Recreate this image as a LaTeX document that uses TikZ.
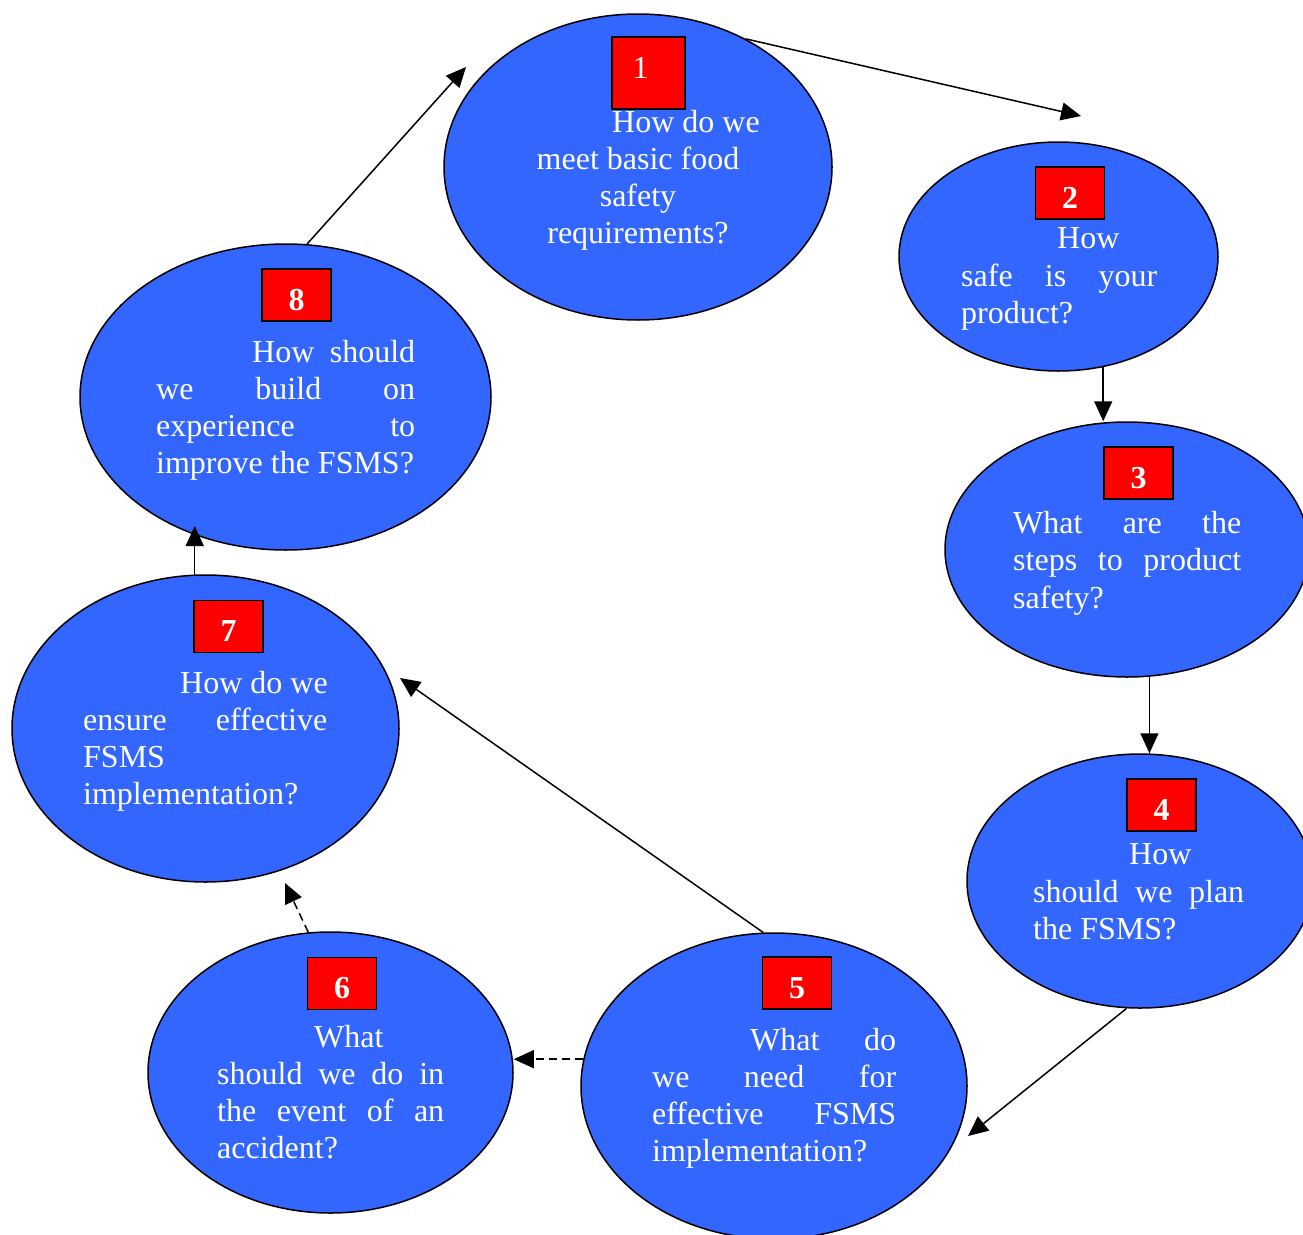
\documentclass[tikz,border=0pt]{standalone}
\usepackage{fontspec}
\setmainfont{Liberation Serif}
\usetikzlibrary{shapes.geometric,arrows.meta}
\definecolor{ebl}{HTML}{3366FF}
\definecolor{rbx}{HTML}{FF0000}
\newcommand{\jl}[2]{\makebox[#1][s]{#2}}
\begin{document}
\begin{tikzpicture}[x=1pt,y=-1pt,
  bubble/.style={ellipse,draw=black,line width=1.5pt,fill=ebl,inner sep=0pt},
  numbox/.style={rectangle,draw=black,line width=1.5pt,fill=rbx,inner sep=0pt,
    minimum width=69pt,minimum height=52pt,text=white,
    font=\fontsize{32}{37}\selectfont\bfseries,text height=30pt,text depth=0pt},
  qtext/.style={text=white,font=\fontsize{32}{37}\selectfont,inner sep=0pt,anchor=base west},
  qctext/.style={qtext,anchor=base},
  arr/.style={line width=1.5pt,-{Triangle[length=20pt,width=18pt]}},
  darr/.style={arr,dash pattern=on 8pt off 5pt}]
\useasboundingbox (0,0) rectangle (1303,1234);

% bubbles
\node[bubble,minimum width=388pt,minimum height=306pt] (e1) at (638,167) {};
\node[bubble,minimum width=319pt,minimum height=229pt] (e2) at (1058.5,256.5) {};
\node[bubble,minimum width=364pt,minimum height=255pt] (e3) at (1127,549.5) {};
\node[bubble,minimum width=346pt,minimum height=254pt] (e4) at (1140,881) {};
\node[bubble,minimum width=386pt,minimum height=306pt] (e5) at (774,1086) {};
\node[bubble,minimum width=365pt,minimum height=281pt] (e6) at (330.5,1072.5) {};
\node[bubble,minimum width=387pt,minimum height=307pt] (e7) at (205.5,728.5) {};
\node[bubble,minimum width=411pt,minimum height=306pt] (e8) at (285.5,397) {};

% number boxes
\node[numbox,minimum width=73pt,minimum height=72pt,font=\fontsize{32}{37}\selectfont,text height=10pt] (n1) at (648.5,73) {1\hspace*{16pt}};
\node[numbox] (n2) at (1070,193) {2};
\node[numbox] (n3) at (1138.5,473) {3};
\node[numbox] (n4) at (1161.5,805) {4};
\node[numbox] (n5) at (797,983) {5};
\node[numbox] (n6) at (342,983.5) {6};
\node[numbox] (n7) at (228.5,626.5) {7};
\node[numbox] (n8) at (296.5,295) {8};

% texts
\node[qtext] (t1a) at (612,132) {How do we};
\node[qctext] (t1b) at (638,169) {meet basic food};
\node[qctext] (t1c) at (638,206) {safety};
\node[qctext] (t1d) at (638,243) {requirements?};

\node[qtext] (t2a) at (1057,248) {How};
\node[qtext] (t2b) at (961,286) {\jl{196pt}{safe is your}};
\node[qtext] (t2c) at (961,323) {product?};

\node[qtext] (t3a) at (1013,533) {\jl{228pt}{What are the}};
\node[qtext] (t3b) at (1013,570) {\jl{228pt}{steps to product}};
\node[qtext] (t3c) at (1013,608) {safety?};

\node[qtext] (t4a) at (1129,864) {How};
\node[qtext] (t4b) at (1033,902) {\jl{211pt}{should we plan}};
\node[qtext] (t4c) at (1033,939) {the FSMS?};

\node[qtext] (t5a) at (750,1050) {\jl{146pt}{What do}};
\node[qtext] (t5b) at (652,1087) {\jl{244pt}{we need for}};
\node[qtext] (t5c) at (652,1124) {\jl{244pt}{effective FSMS}};
\node[qtext] (t5d) at (652,1161) {implementation?};

\node[qtext] (t6a) at (314,1047) {What};
\node[qtext] (t6b) at (217,1084) {\jl{227pt}{should we do in}};
\node[qtext] (t6c) at (217,1121) {\jl{227pt}{the event of an}};
\node[qtext] (t6d) at (217,1158) {accident?};

\node[qtext] (t7a) at (180,693) {How do we};
\node[qtext] (t7b) at (83,730) {\jl{244pt}{ensure effective}};
\node[qtext] (t7c) at (83,767) {FSMS};
\node[qtext] (t7d) at (83,804) {implementation?};

\node[qtext] (t8a) at (252,362) {\jl{163pt}{How should}};
\node[qtext] (t8b) at (156,399) {\jl{259pt}{we build on}};
\node[qtext] (t8c) at (156,436) {\jl{259pt}{experience to}};
\node[qtext] (t8d) at (156,473) {improve the FSMS?};

% connectors
\coordinate (c12) at (1081,116);
\coordinate (c45) at (968,1136);
\coordinate (c67) at (285,883);
\coordinate (c57) at (400,678);
\coordinate (c78) at (194,526);
\coordinate (c81) at (466,67);

\draw[arr] (e1.50) -- (c12);
\draw[arr] (e2.-68) -- (e2.-68 |- e3.north);
\draw[arr] (e3.-80) -- (e3.-80 |- e4.north);
\draw[arr] (e4.-96) -- (c45);
\draw[darr] (e5.172) -- (e5.172 -| e6.east);
\draw[darr] (e6.99) -- (c67);
\draw[arr] (e5.94) -- (c57);
\draw[arr] (e7.94) -- (e7.94 |- c78);
\draw[arr] (e8.82) -- (c81);
\end{tikzpicture}
\end{document}
